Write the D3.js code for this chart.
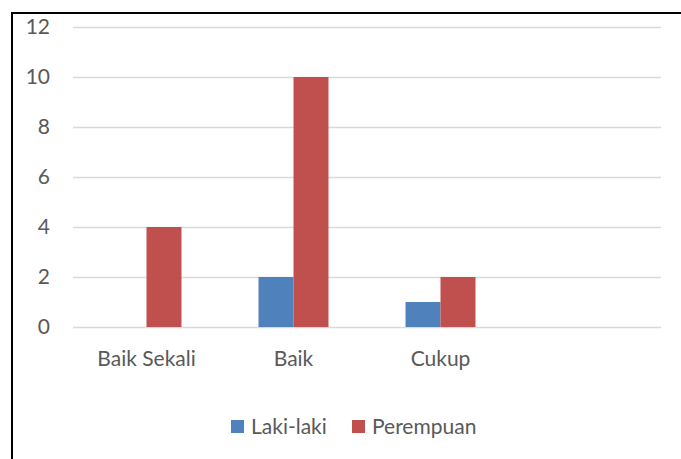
<!DOCTYPE html>
<html>
<head>
<meta charset="utf-8">
<script src="https://cdn.jsdelivr.net/npm/d3@7"></script>
<style>
  body { margin: 0; background: #fff; }
  text { font-family: Lato, "Open Sans", sans-serif; fill: #595959; }
</style>
</head>
<body>
<div id="chart"></div>
<script>
var svgWidth = 681;
var svgHeight = 459;

// data
var categories = ["Baik Sekali", "Baik", "Cukup", ""];
var seriesNames = ["Laki-laki", "Perempuan"];
var lakiLaki = [0, 2, 1, 0];
var perempuan = [4, 10, 2, 0];
var yTicks = [0, 2, 4, 6, 8, 10, 12];
var colors = ["#4f81bd", "#c0504d"];

var margin = { top: 27, right: 20, bottom: 132, left: 73 };
var width = svgWidth - margin.left - margin.right;
var height = svgHeight - margin.top - margin.bottom;
var fontSize = "21px";

var svg = d3.select("#chart")
  .append("svg")
  .attr("width", svgWidth)
  .attr("height", svgHeight);

// outer frame (right and bottom edges fall outside the picture)
svg.append("rect")
  .attr("x", 12)
  .attr("y", 13)
  .attr("width", 700)
  .attr("height", 500)
  .attr("fill", "none")
  .attr("stroke", "#000")
  .attr("stroke-width", 2);

var chartGroup = svg.append("g")
  .attr("transform", `translate(${margin.left}, ${margin.top})`);

var x0 = d3.scaleBand()
  .domain(categories)
  .range([0, 588])
  .paddingInner(0.524)
  .paddingOuter(0.262);

var x1 = d3.scaleBand()
  .domain(seriesNames)
  .range([0, x0.bandwidth()]);

var y = d3.scaleLinear()
  .domain([0, 12])
  .range([300, 0]);

// gridlines
chartGroup.append("g")
  .selectAll("line")
  .data(yTicks)
  .enter()
  .append("line")
  .attr("x1", 0)
  .attr("x2", 588)
  .attr("y1", d => Math.round(y(d)) + 0.5)
  .attr("y2", d => Math.round(y(d)) + 0.5)
  .attr("stroke", "#d9d9d9")
  .attr("stroke-width", 1.5);

// y labels
var leftAxis = d3.axisLeft(y).tickValues(yTicks).tickSize(0).tickPadding(0);
var yAxis = chartGroup.append("g")
  .attr("transform", "translate(-23, 0)")
  .call(leftAxis);
yAxis.select(".domain").remove();
yAxis.selectAll("text")
  .attr("font-size", fontSize)
  .attr("font-family", "Lato, sans-serif")
  .attr("fill", "#595959")
  .attr("text-anchor", "end");

// bars
var table = categories.map((c, i) => ({ cat: c, values: [lakiLaki[i], perempuan[i]] }));

var groups = chartGroup.append("g")
  .selectAll("g")
  .data(table)
  .enter()
  .append("g")
  .attr("transform", d => `translate(${x0(d.cat)}, 0)`);

groups.selectAll("rect")
  .data(d => d.values.map((v, j) => ({ name: seriesNames[j], value: v, color: colors[j] })))
  .enter()
  .append("rect")
  .attr("x", d => x1(d.name))
  .attr("y", d => y(d.value))
  .attr("width", x1.bandwidth())
  .attr("height", d => y(0) - y(d.value))
  .attr("fill", d => d.color);

// category labels
var bottomAxis = d3.axisBottom(x0).tickSize(0).tickPadding(0);
var xAxis = chartGroup.append("g")
  .attr("transform", "translate(0, 324)")
  .call(bottomAxis);
xAxis.select(".domain").remove();
xAxis.selectAll("text")
  .attr("font-size", fontSize)
  .attr("font-family", "Lato, sans-serif")
  .attr("fill", "#595959");

// legend
var legend = svg.append("g")
  .attr("transform", "translate(231, 420)");
var legendX = [0, 121];
seriesNames.forEach(function(name, i) {
  var item = legend.append("g")
    .attr("transform", `translate(${legendX[i]}, 0)`);
  item.append("rect")
    .attr("width", 13)
    .attr("height", 13)
    .attr("fill", colors[i]);
  item.append("text")
    .attr("x", 20)
    .attr("y", 6.5)
    .attr("dy", "0.35em")
    .attr("font-size", fontSize)
    .text(name);
});
</script>
</body>
</html>
